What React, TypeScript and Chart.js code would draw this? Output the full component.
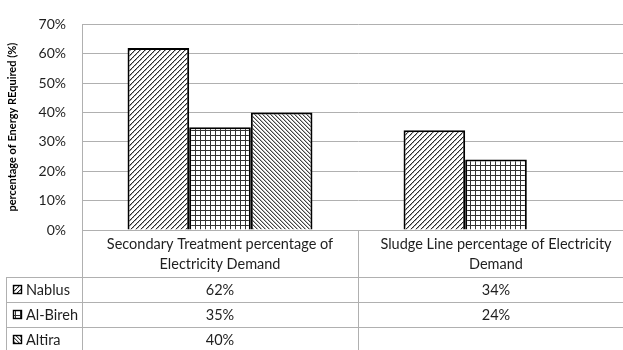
import React, { useEffect, useRef } from 'react';
import { Chart, registerables } from 'chart.js';

Chart.register(...registerables);

// Category headers (each entry is the wrapped lines of one column header)
const categoryLines: string[][] = [
  ['Secondary Treatment percentage of', 'Electricity Demand'],
  ['Sludge Line percentage of Electricity', 'Demand'],
];
const seriesNames = ['Nablus', 'Al-Bireh', 'Altira'];
const nablus: (number | null)[] = [62, 34];
const alBireh: (number | null)[] = [35, 24];
const altira: (number | null)[] = [40, null];
const yMax = 70;
const yStep = 10;
const axisTitle = 'percentage of Energy REquired (%)';

const FONT = 'Lato, "Open Sans", sans-serif';
const GRID = '#b0b0b0';
const TEXT = '#1e1e1e';

type PatternKind = 'up' | 'grid' | 'down';
const patternKinds: PatternKind[] = ['up', 'grid', 'down'];

function makeTile(kind: PatternKind): HTMLCanvasElement {
  const c = document.createElement('canvas');
  const size = kind === 'up' ? 5 : kind === 'grid' ? 5 : 4;
  c.width = size;
  c.height = size;
  const g = c.getContext('2d')!;
  g.fillStyle = '#ffffff';
  g.fillRect(0, 0, size, size);
  if (kind === 'up') {
    for (let i = 0; i < size; i++) {
      g.fillStyle = '#2a2a2a';
      g.fillRect(size - 1 - i, i, 1, 1);
      g.fillStyle = i % 2 === 0 ? '#9a9a9a' : '#c8c8c8';
      g.fillRect((size - i) % size, i, 1, 1);
    }
  } else if (kind === 'grid') {
    g.fillStyle = '#333';
    g.fillRect(0, 0, size, 1);
    g.fillRect(0, 0, 1, size);
  } else {
    for (let i = 0; i < size; i++) {
      g.fillStyle = '#444';
      g.fillRect(i, i, 1, 1);
      g.fillStyle = '#b4b4b4';
      g.fillRect((i + 1) % size, i, 1, 1);
    }
  }
  return c;
}

const fmt = (v: number | null) => (v == null ? '' : `${v}%`);

export default function App() {
  const canvasRef = useRef<HTMLCanvasElement | null>(null);

  useEffect(() => {
    const canvas = canvasRef.current;
    if (!canvas) return;
    const ctx0 = canvas.getContext('2d')!;
    const patterns = patternKinds.map((k) => ctx0.createPattern(makeTile(k), 'repeat')!);
    const seriesData = [nablus, alBireh, altira];

    const tablePlugin = {
      id: 'dataTable',
      afterDraw(chart: any) {
        const { ctx, chartArea, scales } = chart;
        const x = scales.x;
        const n = categoryLines.length;
        const colW = (chartArea.right - chartArea.left) / n;
        const top = chartArea.bottom;
        const headerBottom = top + 47;
        const rowH = 25;
        const tableLeft = 6;
        const right = chart.width;
        const bottom = headerBottom + rowH * seriesNames.length;
        const px = (v: number) => Math.round(v) + 0.5;

        ctx.save();
        ctx.strokeStyle = GRID;
        ctx.lineWidth = 1;
        ctx.beginPath();
        // column separators
        for (let k = 0; k <= n; k++) {
          const xx = px(chartArea.left + k * colW);
          ctx.moveTo(xx, top);
          ctx.lineTo(xx, bottom);
        }
        // left border of the legend column
        ctx.moveTo(px(tableLeft), headerBottom);
        ctx.lineTo(px(tableLeft), bottom);
        // row separators
        for (let r = 0; r <= seriesNames.length; r++) {
          const yy = px(headerBottom + r * rowH);
          ctx.moveTo(tableLeft, yy);
          ctx.lineTo(right, yy);
        }
        ctx.stroke();

        // column headers
        ctx.fillStyle = TEXT;
        ctx.font = `14.5px ${FONT}`;
        ctx.textAlign = 'center';
        ctx.textBaseline = 'middle';
        const lineH = 19.5;
        categoryLines.forEach((lines, i) => {
          const cx = x.getPixelForValue(i);
          const cy = (top + headerBottom) / 2 - ((lines.length - 1) * lineH) / 2;
          lines.forEach((t, j) => ctx.fillText(t, cx, cy + j * lineH + 1));
        });

        // rows: legend key, name, values
        seriesNames.forEach((name, r) => {
          const cy = headerBottom + r * rowH + rowH / 2;
          const kx = 13;
          const ks = 9;
          ctx.fillStyle = patterns[r];
          ctx.fillRect(kx, Math.round(cy - ks / 2), ks, ks);
          ctx.strokeStyle = '#000';
          ctx.lineWidth = 1.4;
          ctx.strokeRect(kx + 0.5, Math.round(cy - ks / 2) + 0.5, ks - 1, ks - 1);
          ctx.fillStyle = TEXT;
          ctx.textAlign = 'left';
          ctx.fillText(name, 26, cy + 1);
          ctx.textAlign = 'center';
          seriesData[r].forEach((v, i) => {
            ctx.fillText(fmt(v), x.getPixelForValue(i), cy + 1);
          });
        });
        ctx.restore();
      },
    };

    const chart = new Chart(canvas, {
      type: 'bar',
      data: {
        labels: categoryLines.map((l) => l.join(' ')),
        datasets: seriesNames.map((name, i) => ({
          label: name,
          data: seriesData[i],
          backgroundColor: patterns[i],
          borderColor: '#000',
          borderWidth: 2,
          categoryPercentage: 0.67,
          barPercentage: 1.0,
        })),
      },
      options: {
        responsive: false,
        animation: false,
        layout: { padding: { left: 0, right: 6, top: 22, bottom: 120 } },
        plugins: {
          legend: { display: false },
          tooltip: { enabled: false },
        },
        scales: {
          x: { display: false },
          y: {
            min: 0,
            max: yMax,
            ticks: {
              stepSize: yStep,
              padding: 16,
              color: TEXT,
              font: { family: FONT, size: 14 },
              callback: (v: any) => `${v}%`,
            },
            grid: { color: GRID, lineWidth: 1, drawTicks: false },
            border: { color: GRID, width: 1 },
            title: {
              display: true,
              text: axisTitle,
              color: '#000',
              font: { family: FONT, size: 11, weight: 'bold' },
              padding: { top: 6, bottom: 0 },
            },
            afterFit: (scale: any) => {
              scale.width = 82;
            },
          },
        },
      },
      plugins: [tablePlugin],
    } as any);

    return () => chart.destroy();
  }, []);

  return (
    <div
      style={{
        position: 'fixed',
        left: 0,
        top: 0,
        width: 623,
        height: 350,
        overflow: 'hidden',
        background: '#fff',
      }}
    >
      <canvas ref={canvasRef} width={640} height={350} style={{ display: 'block' }} />
    </div>
  );
}
